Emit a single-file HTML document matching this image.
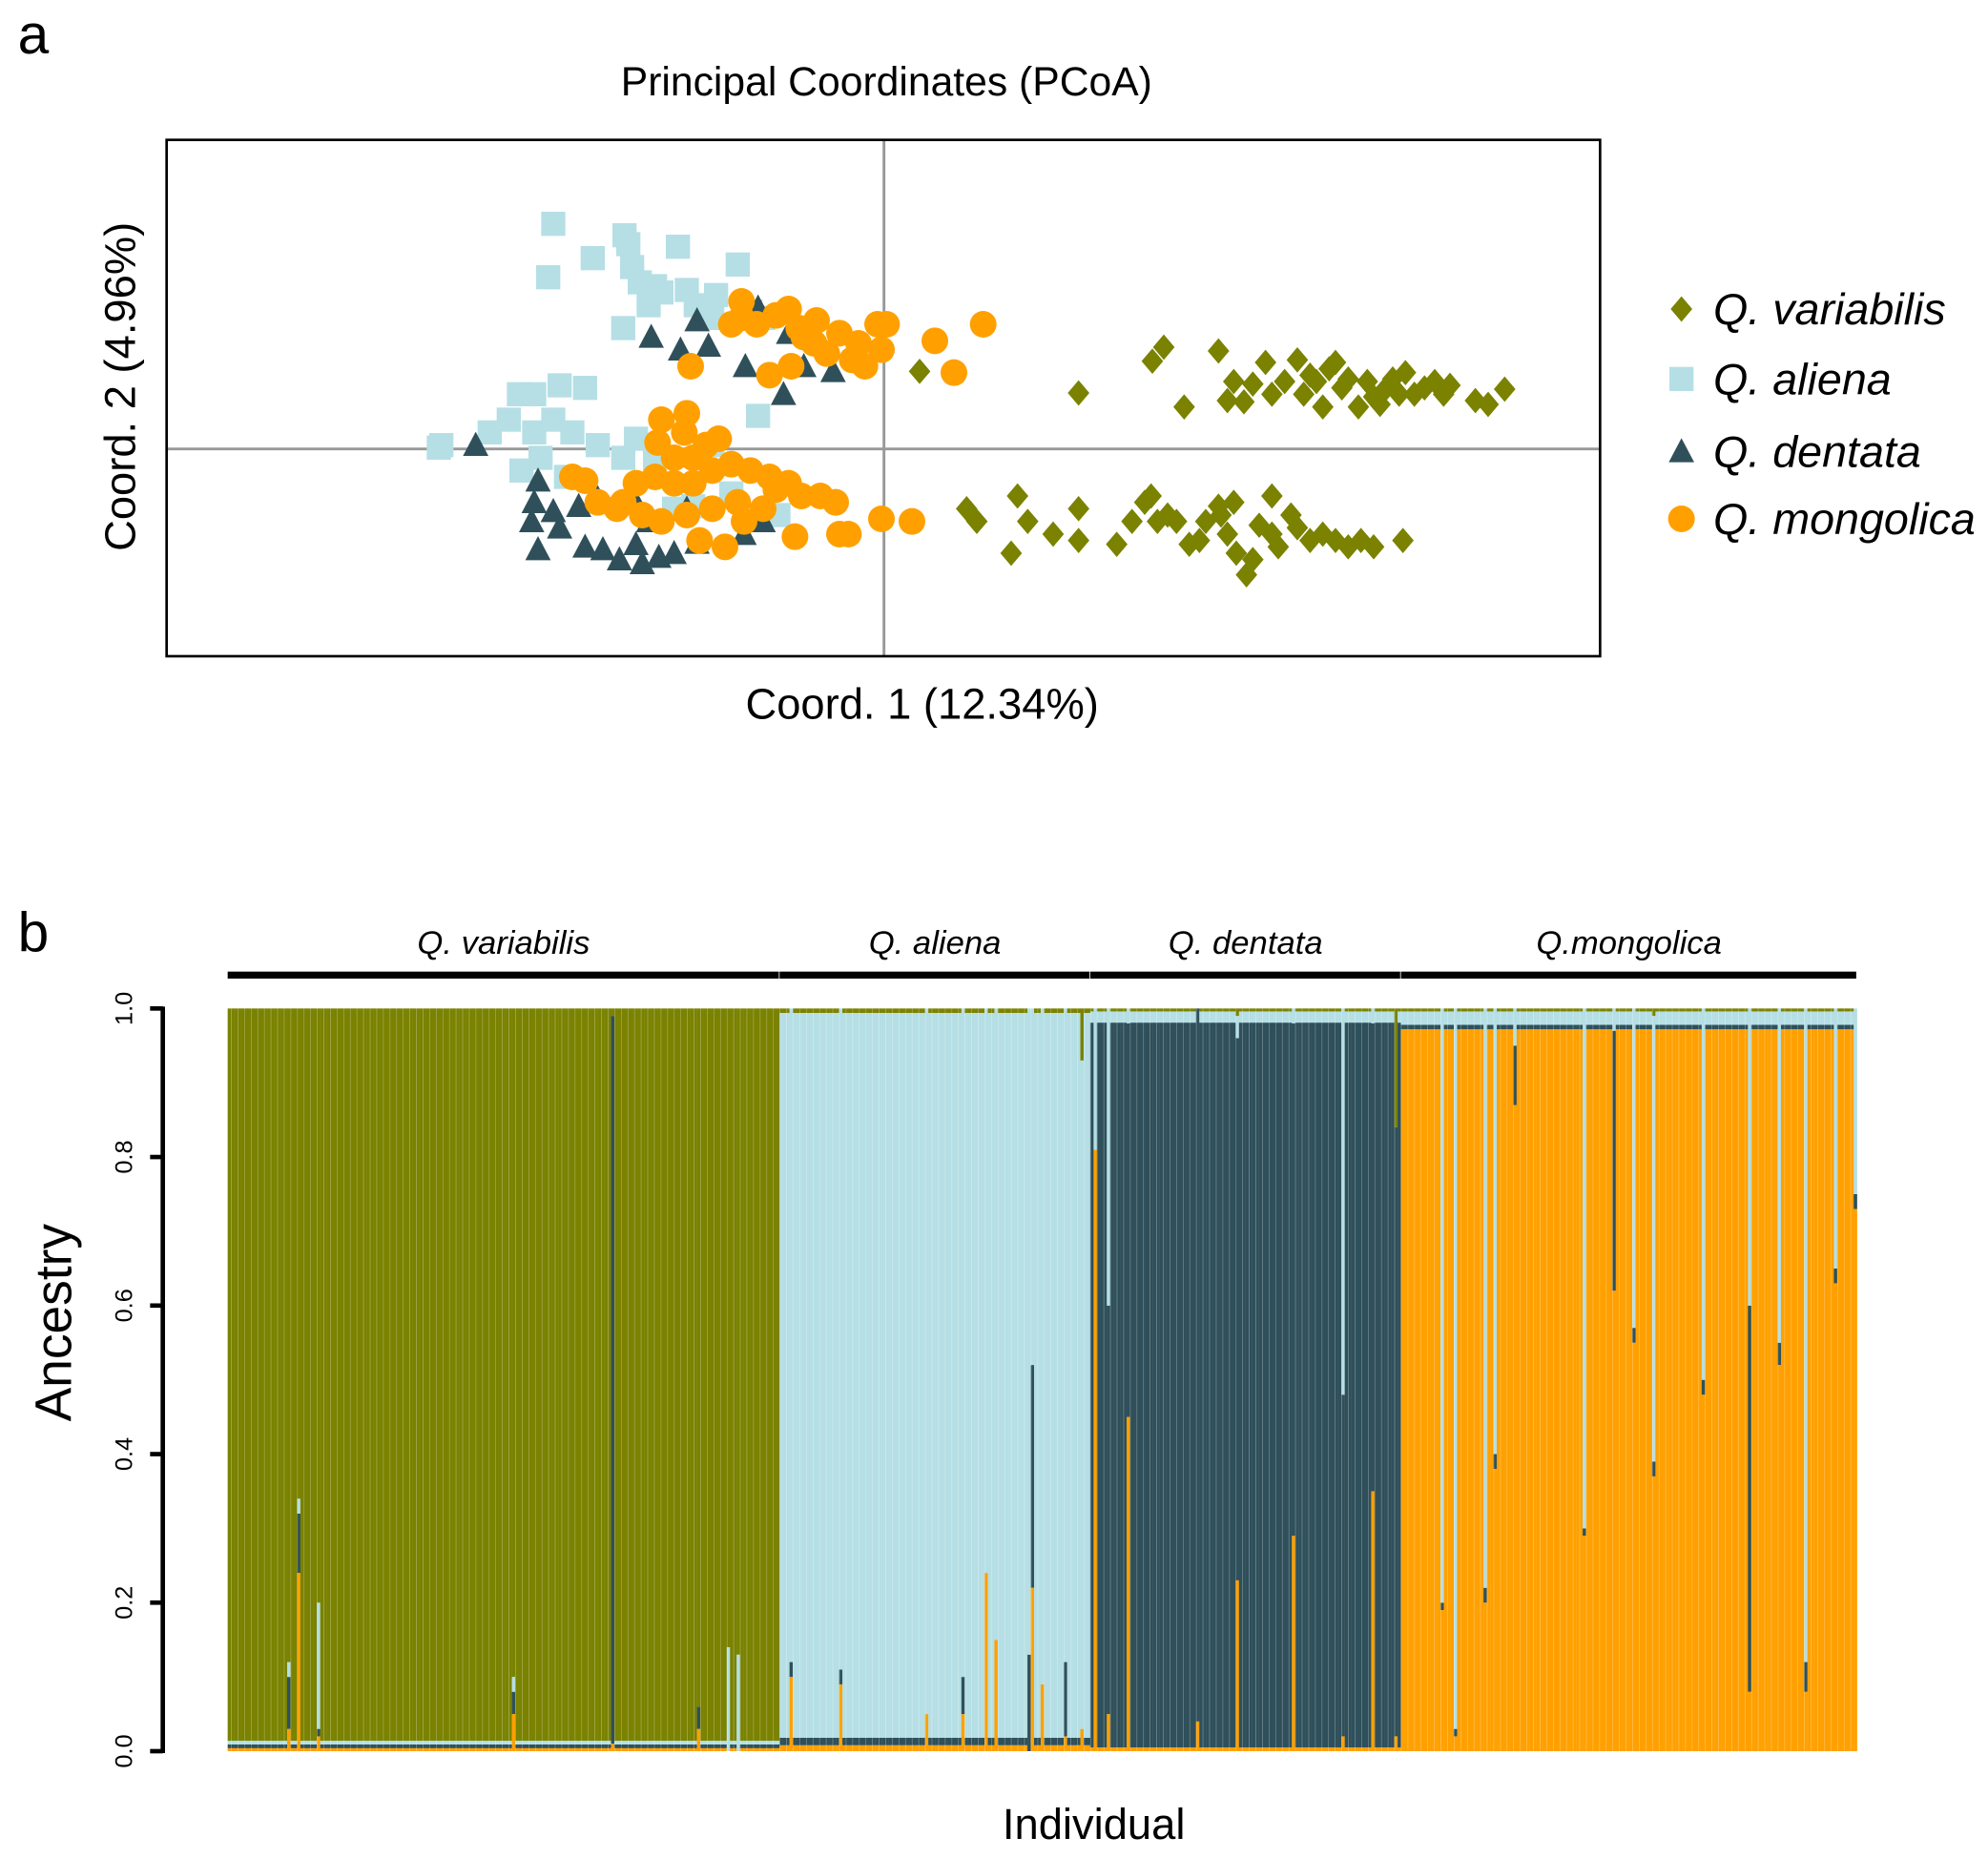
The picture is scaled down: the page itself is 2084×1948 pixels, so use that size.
<!DOCTYPE html>
<html><head><meta charset="utf-8"><style>
html,body{margin:0;padding:0;background:#fff}
svg{display:block}
text{font-family:"Liberation Sans",Arial,sans-serif;fill:#000}
</style></head><body>
<svg id="fig" width="2084" height="1948" viewBox="0 0 1563 1461" xmlns="http://www.w3.org/2000/svg">
<text x="14" y="42" font-size="44">a</text>
<text x="697" y="75" font-size="32" text-anchor="middle">Principal Coordinates (PCoA)</text>
<g id="pcoa"></g>
<rect x="131" y="110" width="1127" height="406" fill="none" stroke="#000" stroke-width="2"/>
<text x="725" y="565" font-size="34" text-anchor="middle">Coord. 1 (12.34%)</text>
<text transform="translate(106,304) rotate(-90)" font-size="34" text-anchor="middle">Coord. 2 (4.96%)</text>
<g id="legend"></g>
<text x="14" y="748" font-size="44">b</text>
<g id="structure"></g>
<text transform="translate(56,1040) rotate(-90)" font-size="40" text-anchor="middle">Ancestry</text>
<text x="860" y="1446" font-size="34" text-anchor="middle">Individual</text>
</svg>
<script>
const NS="http://www.w3.org/2000/svg";
const COL={v:"#7a8200",a:"#b5dfe5",d:"#2f505a",m:"#ffa000"};
// PCoA data (coord1, coord2)
const varX=[0.28,1.53,2.11,2.20,2.36,2.63,2.75,2.83,2.90,3.00,3.05,3.15,3.25,3.30,3.40,3.45,3.50,3.55,3.60,3.65,3.73,3.80,3.85,3.95,4.00,4.05,4.10,4.17,4.25,4.33,4.40,4.45,4.65,4.75,4.88,2.70,3.35,3.90,0.65,0.73,1.00,1.05,1.13,1.33,1.53,1.53,1.83,1.95,2.05,2.10,2.15,2.23,2.30,2.40,2.53,2.63,2.70,2.77,2.85,2.90,2.95,3.05,3.10,3.20,3.25,3.35,3.45,3.55,3.65,3.75,3.85,4.08,3.05,2.65,2.48,2.75];
const varY=[0.61,0.44,0.69,0.80,0.33,0.77,0.53,0.37,0.51,0.68,0.43,0.53,0.70,0.43,0.53,0.33,0.63,0.68,0.48,0.55,0.33,0.53,0.41,0.48,0.55,0.43,0.60,0.43,0.48,0.53,0.43,0.50,0.38,0.35,0.47,0.38,0.58,0.35,-0.47,-0.57,-0.82,-0.37,-0.57,-0.67,-0.47,-0.72,-0.75,-0.57,-0.42,-0.37,-0.57,-0.52,-0.57,-0.75,-0.57,-0.45,-0.67,-0.82,-0.99,-0.87,-0.60,-0.37,-0.77,-0.52,-0.62,-0.72,-0.67,-0.72,-0.77,-0.72,-0.77,-0.72,-0.67,-0.52,-0.72,-0.42];
const aliX=[-2.60,-2.64,-2.29,-2.04,-2.01,-1.62,-1.15,-1.98,-1.92,-1.80,-1.55,-1.75,-1.48,-1.35,-1.85,-2.05,-0.99,-2.35,-2.55,-2.75,-2.87,-2.95,-3.10,-3.48,-3.50,-2.75,-2.60,-2.45,-2.25,-1.95,-2.05,-1.80,-1.35,-1.65,-0.83,-2.85,-2.70,-2.50,-1.05,-1.32,-0.95,-1.20,-1.50];
const aliY=[1.77,1.35,1.50,1.68,1.61,1.59,1.45,1.43,1.31,1.28,1.25,1.23,1.13,1.03,1.13,0.95,0.26,0.48,0.50,0.43,0.43,0.23,0.13,0.03,0.01,0.13,0.23,0.13,0.03,0.08,-0.07,-0.07,0.03,-0.47,-0.52,-0.17,-0.07,-0.22,1.08,1.21,1.03,-0.35,-0.45];
const denX=[-3.21,-1.83,-1.60,-1.47,-1.38,-1.09,-0.99,-0.79,-0.63,-0.40,-0.75,-2.72,-2.75,-2.77,-2.60,-2.55,-2.40,-2.25,-2.72,-2.35,-2.21,-2.08,-1.95,-1.90,-1.77,-1.65,-1.47,-1.85,-1.10,-0.95,-1.55,-1.98];
const denY=[0.03,0.88,0.78,1.01,0.81,0.65,1.11,0.43,0.65,0.61,0.91,-0.25,-0.42,-0.57,-0.49,-0.62,-0.45,-0.39,-0.79,-0.77,-0.79,-0.87,-0.75,-0.90,-0.85,-0.82,-0.74,-0.57,-0.67,-0.57,-0.47,-0.37];
const monX=[-1.12,-1.12,-1.20,-1.00,-0.85,-0.75,-0.67,-0.53,-0.35,-0.20,-0.05,-0.02,-0.15,-0.25,-0.45,-0.55,-0.63,-0.90,-0.73,-1.52,0.40,0.78,0.55,0.02,-1.75,-1.55,-1.57,-1.78,-2.45,-2.35,-2.10,-1.95,-1.80,-1.65,-1.50,-1.35,-1.20,-1.05,-0.90,-0.85,-0.95,-1.15,-1.35,-1.55,-1.75,-1.90,-1.45,-1.25,-1.10,-0.75,-0.65,-0.50,-0.38,-0.35,-0.28,-0.70,-0.02,0.22,-2.05,-2.25,-1.40,-1.30,-1.65,-1.50];
const monY=[1.16,1.03,0.98,0.98,1.05,1.10,0.95,1.01,0.91,0.83,0.98,0.78,0.65,0.70,0.75,0.83,0.88,0.58,0.65,0.65,0.85,0.98,0.60,0.98,0.23,0.28,0.13,0.05,-0.22,-0.25,-0.47,-0.27,-0.22,-0.27,-0.27,-0.17,-0.12,-0.17,-0.22,-0.32,-0.47,-0.42,-0.47,-0.52,-0.57,-0.52,-0.72,-0.77,-0.57,-0.27,-0.37,-0.37,-0.42,-0.67,-0.67,-0.69,-0.55,-0.57,-0.42,-0.42,0.03,0.08,-0.07,-0.07];

// Structure data: group names, sizes, baseline ancestry per group [v,a,d,m]
const groupNames=["Q. variabilis","Q. aliena","Q. dentata","Q.mongolica"];
const groupSizes=[167,94,94,138];
const baseG0=[0.986,0.005,0.005,0.004];
const baseG1=[0.006,0.976,0.01,0.008];
const baseG2=[0.004,0.015,0.976,0.005];
const baseG3=[0.004,0.018,0.006,0.972];
// outliers: global individual index and ancestry [v,a,d,m]
const outIdx=[21,27,18,116,86,151,154,142,170,185,211,222,229,232,242,243,246,253,258,262,266,272,293,305,337,353,346,322,367,371,380,383,410,389,425,431,446,477,469,492,486,419,460];
const outV=[0.66,0.8,0.88,0.01,0.9,0.86,0.87,0.94,0.0,0.0,0.0,0.0,0.0,0.0,0.0,0.0,0.0,0.0,0.07,0.0,0.0,0.0,0.0,0.01,0.0,0.16,0.0,0.0,0.0,0.0,0.0,0.0,0.0,0.0,0.0,0.01,0.0,0.0,0.0,0.0,0.0,0.0,0.0];
const outA=[0.02,0.17,0.02,0.0,0.02,0.14,0.13,0.0,0.88,0.89,0.95,0.9,0.76,0.85,0.87,0.48,0.91,0.88,0.9,0.19,0.4,0.02,0.0,0.03,0.52,0.0,0.02,0.02,0.8,0.97,0.78,0.6,0.7,0.05,0.43,0.6,0.5,0.88,0.45,0.25,0.35,0.03,0.4];
const outD=[0.08,0.01,0.07,0.98,0.03,0.0,0.0,0.03,0.02,0.02,0.0,0.05,0.0,0.0,0.13,0.30,0.0,0.1,0.0,0.0,0.55,0.53,0.96,0.73,0.46,0.82,0.63,0.69,0.01,0.01,0.02,0.02,0.01,0.08,0.02,0.02,0.02,0.04,0.03,0.02,0.02,0.35,0.52];
const outM=[0.24,0.02,0.03,0.01,0.05,0.0,0.0,0.03,0.1,0.09,0.05,0.05,0.24,0.15,0.0,0.22,0.09,0.02,0.03,0.81,0.05,0.45,0.04,0.23,0.02,0.02,0.35,0.29,0.19,0.02,0.2,0.38,0.29,0.87,0.55,0.37,0.48,0.08,0.52,0.73,0.63,0.62,0.08];
const yTicks=[0,0.2,0.4,0.6,0.8,1.0];
const yTickLabels=["0.0","0.2","0.4","0.6","0.8","1.0"];

const px=v=>695+v*100, py=v=>353-v*100;
const pc=document.getElementById('pcoa');
function mk(tag,attrs,parent){const e=document.createElementNS(NS,tag);for(const k in attrs)e.setAttribute(k,attrs[k]);parent.appendChild(e);return e;}
let l1=mk('line',{x1:131,x2:1258,y1:py(0),y2:py(0),stroke:'#999','stroke-width':2.2},pc);


let l2=mk('line',{x1:px(0),x2:px(0),y1:110,y2:516,stroke:'#999','stroke-width':2.2},pc);


function marker(type,cx,cy,parent){
  let e;
  if(type==='v'){e=mk('polygon',{points:`${cx},${cy-10} ${cx+8.5},${cy} ${cx},${cy+10} ${cx-8.5},${cy}`,fill:COL.v},parent);}
  else if(type==='a'){e=mk('rect',{x:cx-9.5,y:cy-9.5,width:19,height:19,fill:COL.a},parent);}
  else if(type==='d'){e=mk('polygon',{points:`${cx},${cy-10.5} ${cx+10},${cy+8.5} ${cx-10},${cy+8.5}`,fill:COL.d},parent);}
  else {e=mk('circle',{cx:cx,cy:cy,r:10.5,fill:COL.m},parent);}
  return e;
}
const sets=[['v',varX,varY,'variabilis'],['a',aliX,aliY,'aliena'],['d',denX,denY,'dentata'],['m',monX,monY,'mongolica']];
sets.forEach(([t,X,Y,n])=>{X.forEach((x,i)=>{const e=marker(t,px(x),py(Y[i]),pc);

});});
const lg=document.getElementById('legend');
const legY=[243,298,355,408], legT=["Q. variabilis","Q. aliena","Q. dentata","Q. mongolica"], legK=['v','a','d','m'];
legK.forEach((k,i)=>{const e=marker(k,1322,legY[i],lg);


const t=mk('text',{x:1347,y:legY[i]+12,'font-size':35,'font-style':'italic'},lg);t.textContent=legT[i];

});

const st=document.getElementById('structure');
const X0=179,X1=1460,Y0=1377,Y1=793;
const total=groupSizes.reduce((a,b)=>a+b,0);
const bw=(X1-X0)/total;
const ys=v=>Y0-v*(Y0-Y1);
const bases=[baseG0,baseG1,baseG2,baseG3];
let idx=0;const groupStart=[];
groupSizes.forEach((n,g)=>{groupStart.push(idx);for(let i=0;i<n;i++){
  let comp=bases[g];const o=outIdx.indexOf(idx);
  if(o>=0){comp=[outV[o],outA[o],outD[o],outM[o]];const s=comp[0]+comp[1]+comp[2]+comp[3];comp=comp.map(c=>c/s);}
  const order=[[3,'m'],[2,'d'],[1,'a'],[0,'v']];let cum=0;const x=X0+idx*bw;
  order.forEach(([ci,k])=>{const v=comp[ci];if(v<=0)return;
    const r=mk('rect',{x:x,y:ys(cum+v),width:bw+0.15,height:v*(Y0-Y1),fill:COL[k]},st);
    
    
    cum+=v;});
  if(idx%2===1){const sep=mk('line',{x1:x+0.3,x2:x+0.3,y1:Y1,y2:Y0,stroke:'#fff','stroke-width':0.5,'stroke-opacity':0.35},st);
  
  }
  idx++;}});
groupSizes.forEach((n,g)=>{const xa=X0+groupStart[g]*bw,xb=xa+n*bw;
  const b=mk('rect',{x:xa,y:764,width:xb-xa-0.6,height:5.5,fill:'#000'},st);
  
  
  const t=mk('text',{x:(xa+xb)/2,y:750,'font-size':26,'font-style':'italic','text-anchor':'middle'},st);t.textContent=groupNames[g];
  
  });
const ax=mk('line',{x1:128,x2:128,y1:ys(0)+1.5,y2:ys(1)-1.5,stroke:'#000','stroke-width':3.5},st);


yTicks.forEach((v,i)=>{const tk=mk('line',{x1:118,x2:128,y1:ys(v),y2:ys(v),stroke:'#000','stroke-width':3.5},st);


const t=mk('text',{transform:`translate(104,${ys(v)}) rotate(-90)`,'font-size':19,'text-anchor':'middle'},st);t.textContent=yTickLabels[i];

});
</script>
</body></html>
